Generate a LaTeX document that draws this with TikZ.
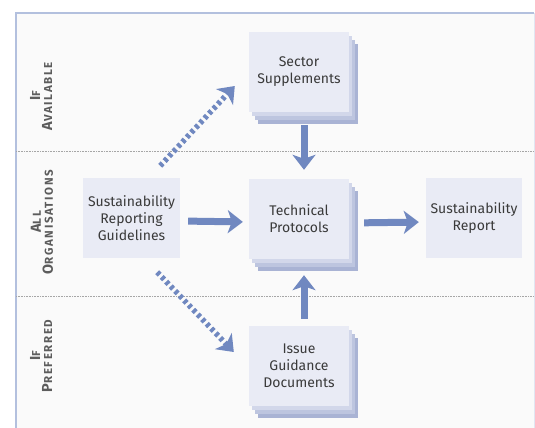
\documentclass[tikz,border=0pt]{standalone}
\usepackage{fontspec}
\setmainfont{Fira Sans}
\usetikzlibrary{arrows.meta,shadows}
\definecolor{framecol}{HTML}{B3C0DE}
\definecolor{boxfill}{HTML}{E9EBF5}
\definecolor{layerA}{HTML}{D2D7EA}
\definecolor{layerB}{HTML}{BDC5DF}
\definecolor{layerC}{HTML}{A9B3D4}
\definecolor{arrowcol}{HTML}{7088C0}
\definecolor{textcol}{HTML}{3A3A3A}
\definecolor{sidecol}{HTML}{5C5C5C}
\newcommand\smcap[2]{{\fontsize{14.5}{14.5}\selectfont #1}{\fontsize{11.5}{11.5}\selectfont #2}}
\tikzset{
  flatbox/.style={fill=boxfill,minimum width=100pt,minimum height=80pt,align=center,
    text=textcol,font=\fontsize{14}{17}\selectfont,inner sep=0pt},
  stackbox/.style={flatbox,
    copy shadow={fill=layerC,draw=none,shadow xshift=9pt,shadow yshift=-12pt},
    copy shadow={fill=layerB,draw=none,shadow xshift=6pt,shadow yshift=-8pt},
    copy shadow={fill=layerA,draw=none,shadow xshift=3pt,shadow yshift=-4pt}},
  bigarrow/.style={draw=arrowcol,line width=7pt,
    -{Stealth[length=15pt,width=23pt,inset=4pt,fill=arrowcol]}},
  dotarrow/.style={bigarrow,line width=5.5pt,dash pattern=on 3.5pt off 3pt},
  sidelabel/.style={rotate=90,align=center,text=sidecol,font=\bfseries\addfontfeature{LetterSpace=14},
    inner sep=0pt},
  zoneline/.style={gray!70,densely dotted,line width=0.6pt}
}
\begin{document}
\begin{tikzpicture}[x=1pt,y=-1pt]
\useasboundingbox (0,0) rectangle (535,428);
\fill[white!98!black] (16,13) rectangle (534,428); %底色
\draw[framecol,line width=1.5pt] (16,428)--(16,13)--(534,13);
\draw[framecol!40,line width=0.8pt] (534,13)--(534,428);
\foreach \y in {151,296}
  \draw[zoneline] (16,\y)--(534,\y); %分区虚线

\node[sidelabel] (lblavail) at (41,96) {\smcap{I}{F}\\\smcap{A}{VAILABLE}};
\node[sidelabel] (lblall) at (42,222) {\smcap{A}{LL}\\\smcap{O}{RGANISATIONS}};
\node[sidelabel] (lblpref) at (41,356) {\smcap{I}{F}\\\smcap{P}{REFERRED}};

\node[stackbox] (sector) at (299,72) {Sector\\Supplements};
\node[flatbox,minimum width=97pt] (guide) at (131.5,218) {Sustainability\\Reporting\\Guidelines};
\node[stackbox] (tech) at (299,219) {Technical\\Protocols};
\node[flatbox,minimum width=96pt] (report) at (474,218) {Sustainability\\Report};
\node[stackbox] (issue) at (299,366) {Issue\\Guidance\\Documents};

\draw[bigarrow,shorten <=13pt,shorten >=9pt] ([xshift=5pt]sector.south)--([xshift=5pt]tech.north);
\draw[bigarrow,shorten <=7pt,shorten >=16pt] ([xshift=5pt]issue.north)--([xshift=5pt]tech.south);
\draw[bigarrow,shorten <=8pt,shorten >=6pt] ([yshift=-3pt]guide.east)--([yshift=-3pt]tech.west);
\draw[bigarrow,shorten <=15pt,shorten >=7pt] ([yshift=-4pt]tech.east)--([yshift=-4pt]report.west);
\draw[dotarrow] ([shift={(-20,-12)}]guide.north east)--([shift={(-14,14)}]sector.west);
\draw[dotarrow] ([shift={(-23,14)}]guide.south east)--([shift={(-15,-14)}]issue.west);
\end{tikzpicture}
\end{document}
